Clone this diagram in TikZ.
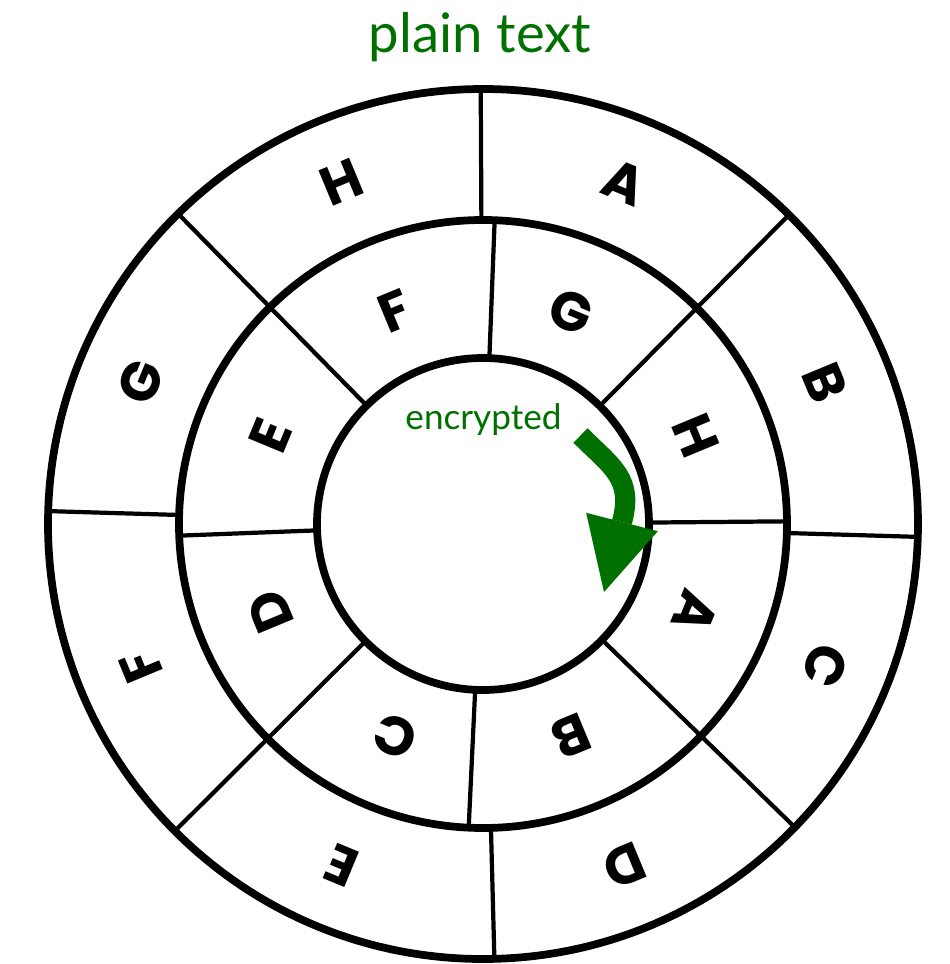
\documentclass[tikz,border=0pt]{standalone}
\usepackage{fontspec}
\usepackage{xcolor}
\usetikzlibrary{calc}
\setmainfont{Lato}
\newfontfamily\wheelfont{Poppins}
\definecolor{cipherGreen}{RGB}{0,112,0}
\colorlet{darkgreen}{cipherGreen}

\begin{document}
\begin{tikzpicture}[
  ring/.style={line width=4.4pt},
  spoke/.style={line width=2.4pt},
  letter/.style={font=\wheelfont\bfseries\fontsize{31}{31}\selectfont,inner sep=0pt},
  label/.style={text=darkgreen,anchor=base,inner sep=0pt}]
\useasboundingbox (-9.66,-8.8) rectangle (9.32,10.48);
\coordinate (hub) at (0,0);
\draw[ring] (hub) circle (8.7cm);
\draw[ring] (hub) circle (6.08cm);
\draw[ring] (hub) circle (3.32cm);
% diagonals go straight through both rings
\foreach \a in {45.3,134.5,-135.1,-44.2}
  \draw[spoke] (\a:3.32) -- (\a:8.7);
% the other spokes are a bit off
\foreach \a in {87.8,0.5,-92.7,182.2}
  \draw[spoke] (\a:3.32) -- (\a:6.08);
\foreach \a in {90.3,-1.7,-88.5,178.3}
  \draw[spoke] (\a:6.08) -- (\a:8.7);
% outer wheel
\foreach \l [count=\i from 0] in {A,B,C,D,E,F,G,H}
  \node[letter,rotate=-22.5-45*\i] (out\l) at ({67.5-45*\i}:7.4) {\l};
% inner wheel, shifted by two
\foreach \l [count=\i from 0] in {G,H,A,B,C,D,E,F}
  \node[letter,rotate=-22.5-45*\i] (in\l) at ({67.5-45*\i}:4.6) {\l};
\node[label,font=\fontsize{31}{31}\selectfont] (plain) at (-0.06,9.42) {plain text};
\node[label,font=\fontsize{20}{20}\selectfont] (enc) at (0.01,1.9) {encrypted};
% the turning arrow
\coordinate (turnstart) at (1.95,1.77);
\coordinate (turnbase) at (2.78,0.04);
\coordinate (turntip) at (2.42,-1.36);
\draw[darkgreen,line width=11.5pt] (turnstart) to[out=-45,in=75,looseness=1.2] (turnbase);
\fill[darkgreen] ($(turnbase)!0.74cm!90:(turntip)$) -- ($(turnbase)!0.74cm!-90:(turntip)$) -- (turntip) -- cycle;
\end{tikzpicture}
\end{document}
